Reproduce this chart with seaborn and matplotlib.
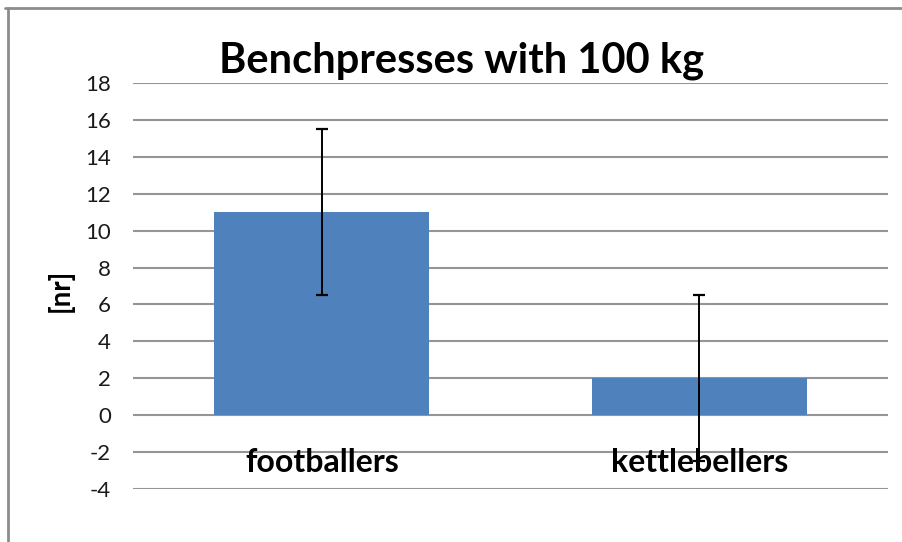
import numpy as np
import pandas as pd
import matplotlib
matplotlib.use('Agg')
import matplotlib.pyplot as plt
import seaborn as sns
from matplotlib.lines import Line2D

# Data
groups = ['footballers', 'kettlebellers']
reps = [11, 2]
reps_err = [4.5, 4.5]
yticks = [-4, -2, 0, 2, 4, 6, 8, 10, 12, 14, 16, 18]

sns.set_style('white')
plt.rcParams['font.family'] = ['Lato', 'DejaVu Sans']
plt.rcParams['axes.unicode_minus'] = False
plt.rcParams['text.color'] = 'black'
plt.rcParams['ytick.color'] = 'black'

df = pd.DataFrame({'group': groups, 'reps': reps})

# Setup plot size
fig = plt.figure(figsize=(9.02, 5.42), dpi=100)
ax = fig.add_axes([0.1475, 0.0978, 0.8370, 0.7491])

# Plot data
sns.barplot(data=df, x='group', y='reps', color='#4F81BD', saturation=1,
            width=0.57, errorbar=None, linewidth=0, zorder=2, ax=ax)
ax.errorbar(x=np.arange(len(groups)), y=reps, yerr=reps_err, fmt='none',
            ecolor='black', elinewidth=1.4, capsize=4, capthick=1.6, zorder=3)

# Grid
ax.set_ylim(-4, 18)
ax.set_xlim(-0.5, 1.5)
ax.set_yticks(yticks)
ax.grid(which='major', axis='y', color='#959595', linewidth=1.5, zorder=1)
ax.set_axisbelow(True)
for s in ax.spines.values():
    s.set_visible(False)

# Axis labels
ax.set_xticks([])
ax.set_xlabel('')
ax.set_ylabel('')
ax.yaxis.set_tick_params(length=0, pad=16, labelsize=16, labelcolor='#1a1a1a')
fig.text(60 / 902, 1 - 290 / 542, '[nr]', rotation=90, ha='center', va='center',
         fontsize=20, fontweight='bold')

# Category labels sit inside the plot area, under the zero line
for i, g in enumerate(groups):
    ax.text(i, -2.55, g, ha='center', va='center', fontsize=23,
            fontweight='bold', zorder=4)

# Title
fig.text(0.512, 0.888, 'Benchpresses with 100 kg', ha='center', va='center',
         fontsize=30, fontweight='bold')

# Chart frame (left and top edges)
fig.add_artist(Line2D([0.009, 0.009], [0, 0.985], color='#8c8c8c', linewidth=2,
                      transform=fig.transFigure))
fig.add_artist(Line2D([0.006, 1.0], [0.985, 0.985], color='#8c8c8c', linewidth=2,
                      transform=fig.transFigure))

plt.savefig('out.png', dpi=100, facecolor='white')
